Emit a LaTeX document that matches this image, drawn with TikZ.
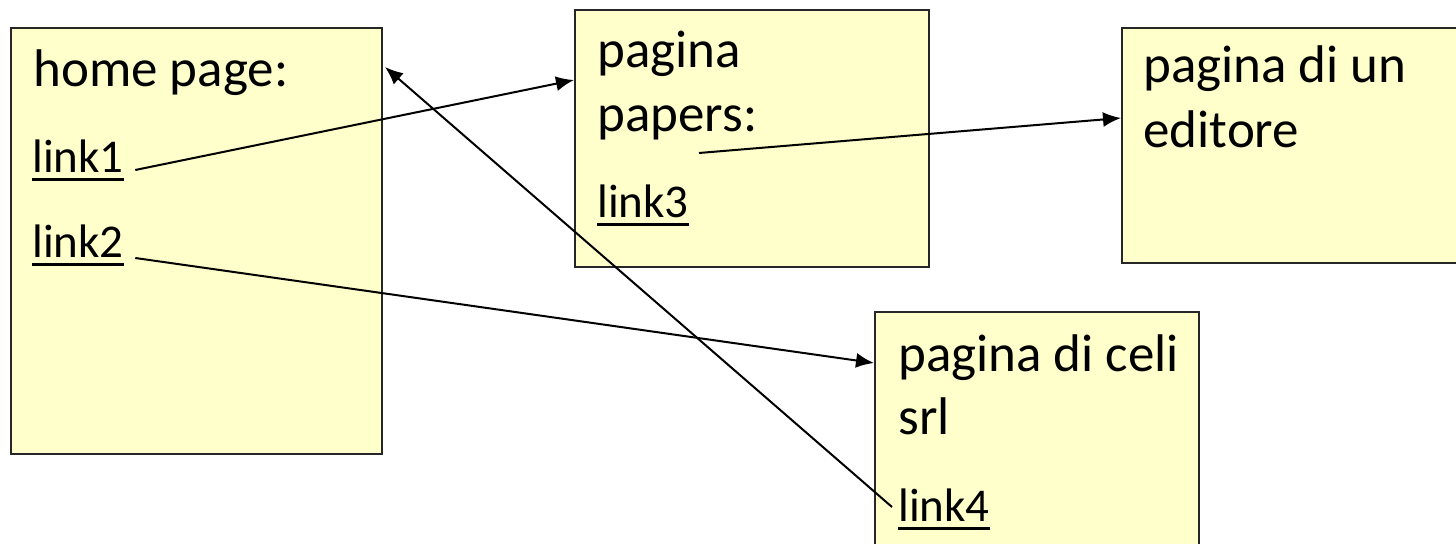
\documentclass[tikz,border=0pt]{standalone}
\usepackage{fontspec}
\setmainfont{Carlito}
\usetikzlibrary{arrows.meta}
\definecolor{pagefill}{HTML}{FFFFCC}
\newcommand{\lnk}[1]{{\setbox0\hbox{#1}\rlap{\rule[-4.25pt]{\wd0}{1.5pt}}\box0}}
\tikzset{
  pagebox/.style={draw=black!85, line width=1pt, fill=pagefill, anchor=north west, inner sep=0pt},
  txt/.style={anchor=base west, inner sep=0pt, font=\fontsize{26.5pt}{32pt}\selectfont},
  lktxt/.style={anchor=base west, inner sep=0pt, font=\fontsize{23.5pt}{28pt}\selectfont},
  conn/.style={line width=1pt, -{Latex[length=9pt,width=7.5pt]}}
}
\begin{document}
\begin{tikzpicture}[x=0.5pt,y=-0.5pt]
\useasboundingbox (0,0) rectangle (1456,544);
\clip (0,0) rectangle (1456,544);
% page boxes
\node[pagebox, minimum width=185.5pt, minimum height=213pt] (b1) at (10,27) {};
\node[pagebox, minimum width=177pt, minimum height=128.5pt] (b2) at (574,9) {};
\node[pagebox, minimum width=180pt, minimum height=117.5pt] (b3) at (1121,27) {};
\node[pagebox, minimum width=162pt, minimum height=130pt] (b4) at (874,311) {};
% home page
\node[txt] (home) at (33,87) {home page:};
\node[lktxt] (link1) at (32,173) {\lnk{link1}};
\node[lktxt] (link2) at (32,258) {\lnk{link2}};
% pagina papers
\node[txt] (p1) at (597,68) {pagina};
\node[txt] (p2) at (597,132) {papers:};
\node[lktxt] (link3) at (597,218) {\lnk{link3}};
% pagina di un editore
\node[txt] (e1) at (1143,83) {pagina di un};
\node[txt] (e2) at (1143,148) {editore};
% pagina di celi srl
\node[txt] (c1) at (898,372) {pagina di celi};
\node[txt] (c2) at (898,435) {srl};
\node[lktxt] (link4) at (898,522) {\lnk{link4}};
% connectors
\coordinate (s3) at (699,153);
\draw[conn] ([xshift=5.5pt,yshift=1.5pt]link1.base east) -- ([yshift=-35.5pt]b2.north west);
\draw[conn] ([xshift=5.5pt]link2.base east) -- ([yshift=-26pt]b4.north west);
\draw[conn] (s3) -- ([yshift=-45.5pt]b3.north west);
\draw[conn] ([xshift=-3pt,yshift=7.5pt]link4.base west) -- ([xshift=1pt,yshift=-20pt]b1.north east);
\end{tikzpicture}
\end{document}
